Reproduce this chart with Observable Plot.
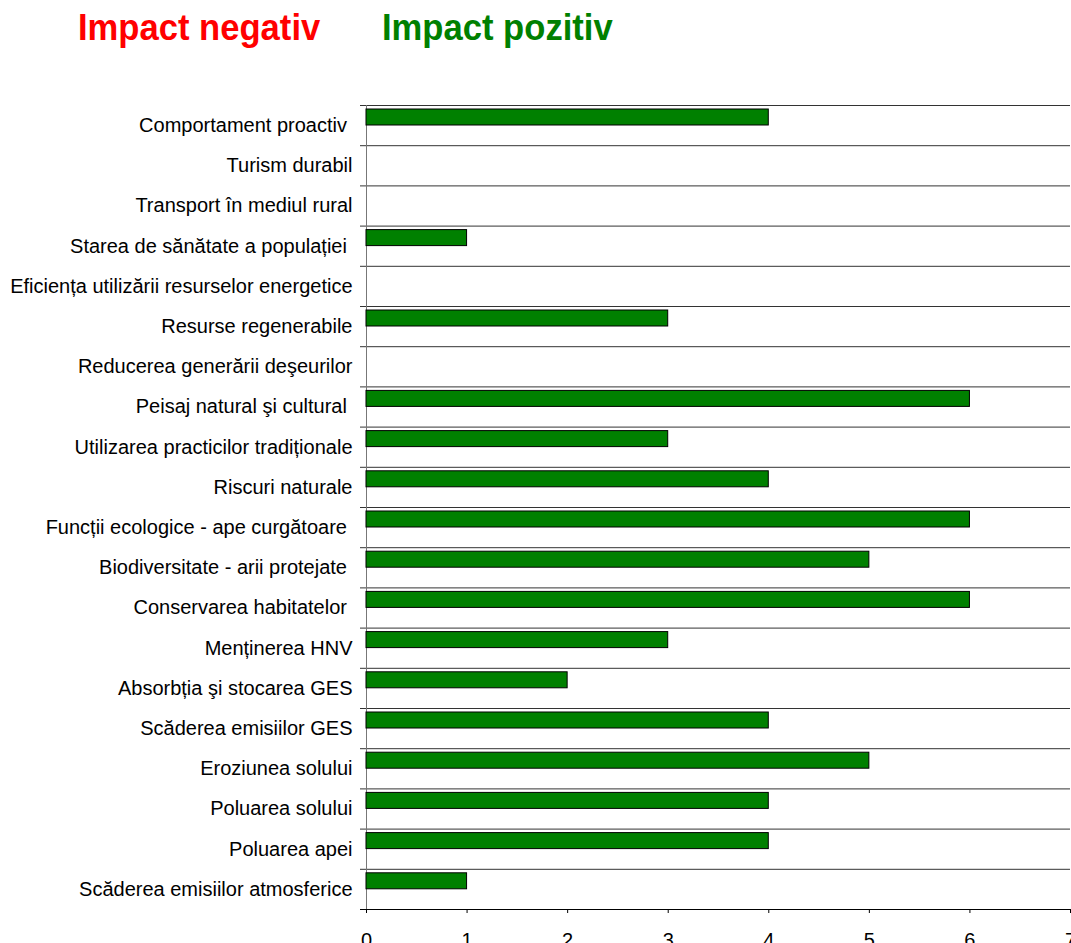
<!DOCTYPE html>
<html>
<head>
<meta charset="utf-8">
<script src="https://cdn.jsdelivr.net/npm/d3@7"></script>
<script src="https://cdn.jsdelivr.net/npm/@observablehq/plot@0.6"></script>
<style>
  html, body { margin: 0; padding: 0; background: white; }
  #wrap { position: relative; width: 1071px; height: 943px; overflow: hidden; }
  .title { position: absolute; top: 0; font-family: "Liberation Sans", Arial, sans-serif; font-weight: bold; font-size: 37px; line-height: 37px; transform: scaleX(0.935); transform-origin: left top; white-space: nowrap; }
  #neg { left: 78px; top: 9px; color: #FF0000; }
  #pos { left: 382px; top: 9px; color: #008000; }
  #chart { position: absolute; left: 0; top: 0; }
</style>
</head>
<body>
<div id="wrap">
  <div id="chart"></div>
  <div class="title" id="neg">Impact negativ</div>
  <div class="title" id="pos">Impact pozitiv</div>
</div>
<script>
const categories = [
  "Comportament proactiv\u00a0",
  "Turism durabil",
  "Transport în mediul rural",
  "Starea de sănătate a populației\u00a0",
  "Eficiența utilizării resurselor energetice",
  "Resurse regenerabile",
  "Reducerea generării deşeurilor",
  "Peisaj natural şi cultural\u00a0",
  "Utilizarea practicilor tradiționale",
  "Riscuri naturale",
  "Funcții ecologice - ape curgătoare\u00a0",
  "Biodiversitate - arii protejate\u00a0",
  "Conservarea habitatelor\u00a0",
  "Menținerea HNV",
  "Absorbția şi stocarea GES",
  "Scăderea emisiilor GES",
  "Eroziunea solului",
  "Poluarea solului",
  "Poluarea apei",
  "Scăderea emisiilor atmosferice"
];
const positiveImpact = [4, 0, 0, 1, 0, 3, 0, 6, 3, 4, 6, 5, 6, 3, 2, 4, 5, 4, 4, 1];
const negativeImpact = [0, 0, 0, 0, 0, 0, 0, 0, 0, 0, 0, 0, 0, 0, 0, 0, 0, 0, 0, 0];
const xTicks = [0, 1, 2, 3, 4, 5, 6, 7];

const rows = categories.map((c, i) => ({cat: c, pos: positiveImpact[i], neg: negativeImpact[i]}));

const height = 943, marginTop = 105, marginBottom = 34;
const bw = (height - marginTop - marginBottom) / categories.length;
const last = categories[categories.length - 1];

const chart = Plot.plot({
  width: 1071,
  height,
  marginTop,
  marginBottom,
  marginLeft: 366,
  marginRight: 1,
  style: {fontFamily: "'Liberation Sans', Arial, sans-serif", fontSize: "20px", color: "black", background: "white", overflow: "visible"},
  x: {domain: [0, 7]},
  y: {domain: categories, padding: 0, round: false},
  marks: [
    Plot.ruleY(categories, {y: d => d, dy: -bw / 2, x1: 0, x2: 7, insetLeft: -6, stroke: "#333"}),
    Plot.ruleY([last], {y: d => d, dy: bw / 2, x1: 0, x2: 7, insetLeft: -6, stroke: "black"}),
    Plot.ruleX([0], {stroke: "#777", insetBottom: -4}),
    Plot.rectX(rows.filter(d => d.pos > 0), {y: "cat", x1: 0, x2: "pos", fill: "#008000", stroke: "black", strokeWidth: 1, insetTop: 4, insetBottom: bw - 20}),
    Plot.rectX(rows.filter(d => d.neg > 0), {y: "cat", x1: 0, x2: "neg", fill: "#FF0000", stroke: "black", strokeWidth: 1, insetTop: 20, insetBottom: bw - 36}),
    Plot.axisY({tickSize: 0, tickPadding: 14, fontSize: 20, label: null}),
    Plot.axisX({ticks: xTicks, tickFormat: d => String(d), tickSize: 4, tickPadding: 19, fontSize: 20, label: null})
  ]
});
document.getElementById("chart").appendChild(chart);
</script>
</body>
</html>
